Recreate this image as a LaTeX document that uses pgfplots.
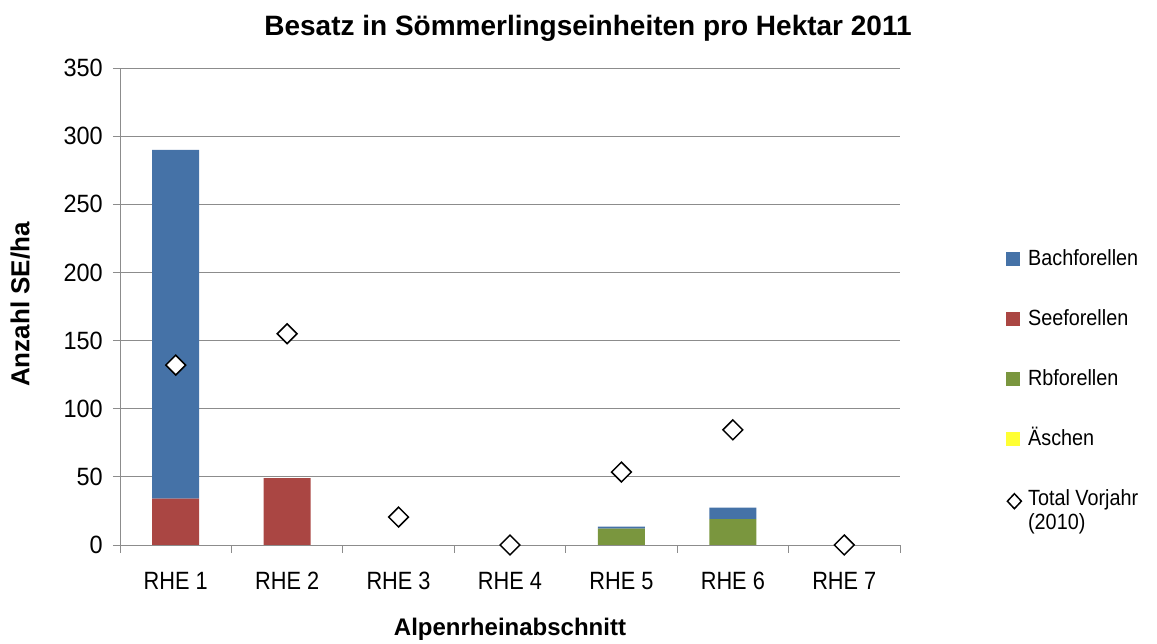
\documentclass[border=0pt]{standalone}
\usepackage{pgfplots}
\pgfplotsset{compat=1.18}
\usetikzlibrary{calc}
\usepackage{fontspec}
\setmainfont{Liberation Sans}

\definecolor{bach}{HTML}{4572A7}
\definecolor{see}{HTML}{AA4643}
\definecolor{rb}{HTML}{7A963E}
\definecolor{aesch}{HTML}{FFFF33}
\definecolor{gridgray}{HTML}{8C8C8C}

\begin{document}
\begin{tikzpicture}
\pgfplotsset{
  every axis/.append style={
    scale only axis, width=780pt, height=477pt,
    xmin=0.5, xmax=7.5, ymin=0, ymax=350,
    /pgf/number format/assume math mode=true,
    tick label style={font=\fontsize{25}{28}\selectfont, xscale=0.87},
  },
}
\begin{axis}[
    name=main,
    ybar stacked,
    bar width=47pt,
    axis lines*=left,
    axis line style={gridgray},
    ymajorgrids,
    grid style={gridgray, line width=0.8pt},
    ytick={0,50,...,350},
    xtick={1,...,7},
    xticklabels={RHE 1,RHE 2,RHE 3,RHE 4,RHE 5,RHE 6,RHE 7},
    minor xtick={0.5,1.5,...,7.5},
    major x tick style={draw=none},
    tick style={gridgray, line width=0.8pt},
    tick align=outside,
    major tick length=7pt,
    minor tick length=8pt,
    xticklabel style={anchor=base, yshift=-38pt},
    yticklabel style={xshift=-8pt, xscale=1.08},
    xlabel={\bfseries Alpenrheinabschnitt},
    xlabel style={font=\fontsize{24}{28}\selectfont, at={(axis description cs:0.5,-0.176)}, anchor=center},
    ylabel={\bfseries Anzahl SE/ha},
    ylabel style={font=\fontsize{26}{30}\selectfont, at={(axis description cs:-0.128,0.504)}, anchor=center},
  ]
% Rbforellen (unten)
\addplot[fill=rb, draw=none] coordinates {(1,0) (2,0) (3,0) (4,0) (5,12) (6,19) (7,0)};
% Seeforellen
\addplot[fill=see, draw=none] coordinates {(1,34) (2,49) (3,0) (4,0) (5,0) (6,0) (7,0)};
% Aeschen
\addplot[fill=aesch, draw=none] coordinates {(1,0) (2,0) (3,0) (4,0) (5,0) (6,0) (7,0)};
% Bachforellen (oben)
\addplot[fill=bach, draw=none] coordinates {(1,256) (2,0) (3,0) (4,0) (5,1.5) (6,8.5) (7,0)};
\end{axis}

\begin{axis}[
    at={(main.south west)}, anchor=south west,
    axis lines=none, ticks=none, clip=false,
    legend style={
      at={(axis description cs:1.1359,0.6205)}, anchor=north west,
      draw=none, fill=none, inner sep=0pt,
      font=\fontsize{22}{24}\selectfont,
      row sep=39pt, column sep=6pt,
      nodes={inner sep=0pt, text height=16pt, text depth=5pt, xscale=0.9},
    },
    legend cell align=left,
  ]
\addlegendimage{area legend, legend image code/.code={\fill[bach] (0pt,-5.5pt) rectangle (13pt,7.5pt);}}
\addlegendentry{Bachforellen}
\addlegendimage{area legend, legend image code/.code={\fill[see] (0pt,-5.5pt) rectangle (13pt,7.5pt);}}
\addlegendentry{Seeforellen}
\addlegendimage{area legend, legend image code/.code={\fill[rb] (0pt,-5.5pt) rectangle (13pt,7.5pt);}}
\addlegendentry{Rbforellen}
\addlegendimage{area legend, legend image code/.code={\fill[aesch] (0pt,-5.5pt) rectangle (13pt,7.5pt);}}
\addlegendentry{Äschen}
% Total Vorjahr (2010)
\addplot[only marks, mark=square*, mark size=7pt,
  mark options={rotate=45, fill=white, draw=black, line width=1.5pt},
  legend image code/.code={\draw[fill=white, line width=1.5pt] (8pt,-9pt) -- (15pt,-1.5pt) -- (8pt,6pt) -- (1pt,-1.5pt) -- cycle;}]
  coordinates {(1,132) (2,155) (3,20.5) (4,0) (5,53.5) (6,84.5) (7,0)};
\addlegendentry{\begin{tabular}[t]{@{}l@{}}Total Vorjahr\\(2010)\end{tabular}}
\end{axis}

\node[font=\bfseries\fontsize{28}{32}\selectfont] at ($(main.south west)+(468pt,517pt)$) {Besatz in Sömmerlingseinheiten pro Hektar 2011};
\path (main.south west) ++(-120pt,-94pt) rectangle ++(1157pt,639pt);
\end{tikzpicture}
\end{document}
